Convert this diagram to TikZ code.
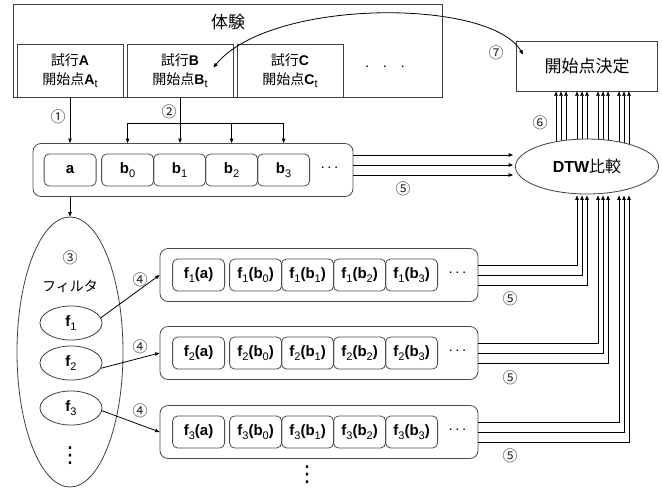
\documentclass[tikz,border=0pt]{standalone}
\usepackage{fontspec}
\setmainfont{Liberation Sans}
\newfontfamily\jpfont{Noto Sans CJK JP}
\newfontfamily\symfont{DejaVu Sans}
\usetikzlibrary{calc,arrows.meta,shapes.geometric,backgrounds}

\newcommand{\jp}[1]{{\mdseries\jpfont #1}}
\newcommand{\lowidx}[1]{\raisebox{-0.45ex}{\normalfont\fontsize{11}{11}\selectfont #1}}
\newcommand{\rowdots}[1][4pt]{\textbf{.\hspace{#1}.\hspace{#1}.}}

\begin{document}
\begin{tikzpicture}[
    x=1pt, y=-1pt, line width=0.8pt,
    frame/.style={rectangle, draw=black!75, inner sep=0pt},
    trial/.style={frame, minimum width=106pt, minimum height=53pt, align=center, font=\fontsize{14}{19}\selectfont},
    rowbox/.style={rectangle, draw=black!70, rounded corners=8pt, minimum width=320pt, minimum height=53pt, inner sep=0pt},
    cell/.style={rectangle, draw=black!70, rounded corners=5pt, minimum width=52pt, minimum height=32pt, inner sep=0pt, font=\bfseries\fontsize{15}{16}\selectfont},
    oval/.style={ellipse, draw=black!75, inner sep=0pt},
    fnode/.style={oval, minimum width=62pt, minimum height=34pt, font=\bfseries\fontsize{15}{15}\selectfont},
    stepnum/.style={inner sep=0pt, text=black!85, font=\jpfont\fontsize{15}{15}\selectfont},
    bigtext/.style={font=\jpfont\fontsize{17}{17}\selectfont},
    vdotsnode/.style={inner sep=0pt, font=\symfont\fontsize{22}{22}\selectfont},
    arrow/.style={-{Triangle[length=4.5pt,width=3.5pt]}, black},
]
\useasboundingbox (0,0) rectangle (662,491);

% === EXPERIMENT AND TRIALS ===
\node[frame, minimum width=429pt, minimum height=93pt] (exp) at (227.5,50.5) {};
\node[bigtext] (exp-label) at (228,22) {体験};
\node[trial] (trialA) at (70,70.5) {\jp{試行}\textbf{A}\\\jp{開始点}\textbf{A}\lowidx{t}};
\node[trial] (trialB) at (180,70.5) {\jp{試行}\textbf{B}\\\jp{開始点}\textbf{B}\lowidx{t}};
\node[trial] (trialC) at (290,70.5) {\jp{試行}\textbf{C}\\\jp{開始点}\textbf{C}\lowidx{t}};
\node (trial-dots) at (385,67) {\rowdots[15pt]};

% === START POINT DECISION ===
\node[frame, bigtext, minimum width=141pt, minimum height=50pt] (decide) at (587,66) {開始点決定};
\node[stepnum] (n7) at (496,53) {⑦};

% === SEQUENCE ROW ===
\node[rowbox] (rowab) at (193,170) {};
\node[cell] (a) at ($(rowab.west)+(37.5,0)$) {a};
\node[cell] (b0) at ($(rowab.west)+(95,0)$) {b\lowidx{0}};
\node[cell] (b1) at ($(rowab.west)+(147,0)$) {b\lowidx{1}};
\node[cell] (b2) at ($(rowab.west)+(199,0)$) {b\lowidx{2}};
\node[cell] (b3) at ($(rowab.west)+(251,0)$) {b\lowidx{3}};
\node (dots-ab) at ($(rowab.west)+(297,-2)$) {\rowdots};
\node[stepnum] (n1) at (58,117) {①};
\node[stepnum] (n2) at (169,112) {②};
\node[stepnum] (n5a) at (403,189) {⑤};

% === DTW ===
\node[oval, fill=white, minimum width=143pt, minimum height=55pt, font=\bfseries\fontsize{16}{16}\selectfont] (dtw) at (587,166.5) {DTW\jp{比較}};
\node[stepnum] (n6) at (540,123) {⑥};

% === FILTERS ===
\node[oval, minimum width=106pt, minimum height=270pt] (filter) at (70,352) {};
\node[stepnum] (n3) at (70,258) {③};
\node[font=\jpfont\fontsize{14}{14}\selectfont] (filter-label) at (70,286) {フィルタ};
\node[fnode] (f1) at (71,323) {f\lowidx{1}};
\node[fnode] (f2) at (71,363) {f\lowidx{2}};
\node[fnode] (f3) at (71,408) {f\lowidx{3}};
\node[vdotsnode] (filter-dots) at (70,456) {⋮};

% === FILTERED ROWS ===
\node[rowbox, minimum width=318pt] (row1) at (319,275) {};
\node[cell] (fa1) at ($(row1.west)+(39,0)$) {f\lowidx{1}(a)};
\node[cell] (fb10) at ($(row1.west)+(96,0)$) {f\lowidx{1}(b\lowidx{0})};
\node[cell] (fb11) at ($(row1.west)+(148,0)$) {f\lowidx{1}(b\lowidx{1})};
\node[cell] (fb12) at ($(row1.west)+(200,0)$) {f\lowidx{1}(b\lowidx{2})};
\node[cell] (fb13) at ($(row1.west)+(252,0)$) {f\lowidx{1}(b\lowidx{3})};
\node (dots1) at ($(row1.west)+(298,-2)$) {\rowdots};

\node[rowbox, minimum width=318pt] (row2) at (319,353) {};
\node[cell] (fa2) at ($(row2.west)+(39,0)$) {f\lowidx{2}(a)};
\node[cell] (fb20) at ($(row2.west)+(96,0)$) {f\lowidx{2}(b\lowidx{0})};
\node[cell] (fb21) at ($(row2.west)+(148,0)$) {f\lowidx{2}(b\lowidx{1})};
\node[cell] (fb22) at ($(row2.west)+(200,0)$) {f\lowidx{2}(b\lowidx{2})};
\node[cell] (fb23) at ($(row2.west)+(252,0)$) {f\lowidx{2}(b\lowidx{3})};
\node (dots2) at ($(row2.west)+(298,-2)$) {\rowdots};

\node[rowbox, minimum width=318pt] (row3) at (319,432) {};
\node[cell] (fa3) at ($(row3.west)+(39,0)$) {f\lowidx{3}(a)};
\node[cell] (fb30) at ($(row3.west)+(96,0)$) {f\lowidx{3}(b\lowidx{0})};
\node[cell] (fb31) at ($(row3.west)+(148,0)$) {f\lowidx{3}(b\lowidx{1})};
\node[cell] (fb32) at ($(row3.west)+(200,0)$) {f\lowidx{3}(b\lowidx{2})};
\node[cell] (fb33) at ($(row3.west)+(252,0)$) {f\lowidx{3}(b\lowidx{3})};
\node (dots3) at ($(row3.west)+(298,-2)$) {\rowdots};

\node[vdotsnode] (rows-dots) at (307,475) {⋮};

\node[stepnum] (n4a) at (140,280) {④};
\node[stepnum] (n4b) at (140,347) {④};
\node[stepnum] (n4c) at (140,411) {④};
\node[stepnum] (n5b) at (510,299) {⑤};
\node[stepnum] (n5c) at (510,378) {⑤};
\node[stepnum] (n5d) at (510,456) {⑤};

% === ARROWS ===
% Trials to sequence row
\draw[arrow] (trialA.south) -- (trialA.south |- rowab.north);
\draw[arrow] (trialB.south) -- (trialB.south |- rowab.north);
\coordinate (fork) at (180,123);
\draw (b0 |- fork) -- (b3 |- fork);
\draw[arrow] (b0 |- fork) -- (b0 |- rowab.north);
\draw[arrow] (b2 |- fork) -- (b2 |- rowab.north);
\draw[arrow] (b3 |- fork) -- (b3 |- rowab.north);

% Sequence row to filters
\draw[arrow] (filter.north |- rowab.south) -- (filter.north);

% Filters to filtered rows
\draw[arrow] (f1.10) -- (row1.west);
\draw[arrow] (f2.-10) -- (row2.west);
\draw[arrow] (f3.-5) -- (row3.west);

% Rows to DTW
\foreach \dy in {-15,-5,5}
  \draw[arrow] ($(rowab.east)+(0,\dy)$) -- ($(rowab.east -| dtw.west)+(-2,\dy)$);
\foreach \dy/\dx in {-10/-10,0/-5,10/0}
  \draw[arrow] ($(row1.east)+(0,\dy)$) -| ($(dtw.south)+(\dx,1)$);
\foreach \dy/\dx in {-10/11,0/16,10/21}
  \draw[arrow] ($(row2.east)+(0,\dy)$) -| ($(dtw.south)+(\dx,1)$);
\foreach \dy/\dx in {-10/32,0/37,10/42}
  \draw[arrow] ($(row3.east)+(0,\dy)$) -| ($(dtw.south)+(\dx,1)$);

% DTW to start point decision
\begin{scope}[on background layer]
\foreach \dx in {-31,-26,-21,-10,-5,0,11,16,21,32,37,42}
  \draw[arrow] ($(dtw.center)+(\dx,0)$) -- ($(decide.south)+(\dx,0)$);
\end{scope}

% Decision back to trial
\draw[{Triangle[length=4.5pt,width=3.5pt]}-{Triangle[length=4.5pt,width=3.5pt]}] ($(trialB.north east)+(-20,24)$) .. controls (270,-2) and (490,-2) .. ($(decide.north west)+(7,14)$);

\end{tikzpicture}
\end{document}
